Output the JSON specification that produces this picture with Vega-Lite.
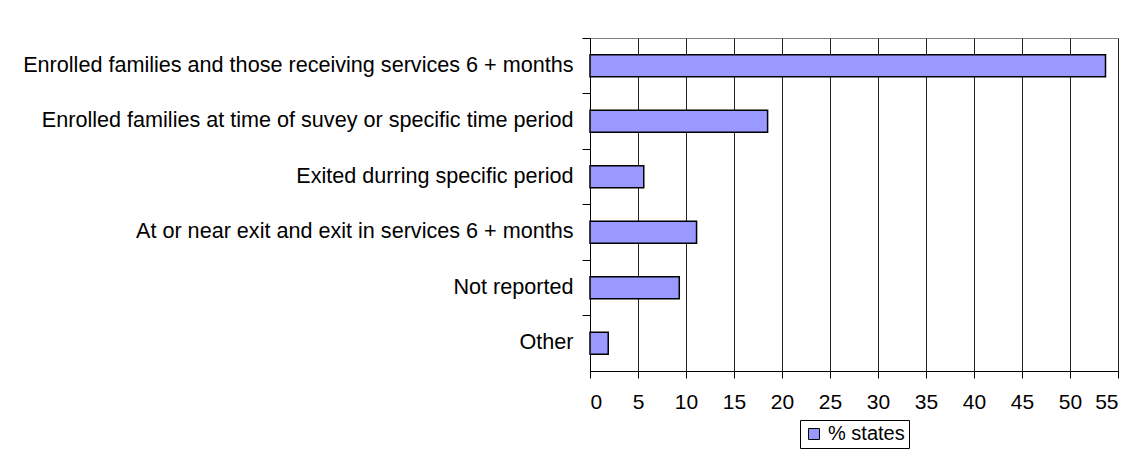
{
  "$schema": "https://vega.github.io/schema/vega-lite/v6.json",
  "autosize": {"type": "none"},
  "padding": {"left": 590, "top": 38, "right": 17, "bottom": 97},
  "width": 528,
  "height": 333,
  "background": "white",
  "config": {
    "font": "Liberation Sans",
    "view": {"stroke": "#808080", "strokeWidth": 1}
  },
  "data": {
    "values": [
      {"category": "Enrolled families and those receiving services 6 + months", "pct": 53.7, "series": "% states"},
      {"category": "Enrolled families at time of suvey or specific time period", "pct": 18.5, "series": "% states"},
      {"category": "Exited durring specific period", "pct": 5.6, "series": "% states"},
      {"category": "At or near exit and exit in services 6 + months", "pct": 11.1, "series": "% states"},
      {"category": "Not reported", "pct": 9.3, "series": "% states"},
      {"category": "Other", "pct": 1.9, "series": "% states"}
    ]
  },
  "mark": {"type": "bar", "height": {"band": 0.4}, "stroke": "black", "strokeWidth": 1.5},
  "encoding": {
    "y": {
      "field": "category", "type": "nominal", "sort": null,
      "scale": {"paddingInner": 0, "paddingOuter": 0},
      "axis": {
        "title": null, "bandPosition": 0, "labelOffset": 0,
        "tickSize": 8, "tickColor": "black", "domainColor": "black",
        "labelFontSize": 21.6, "labelColor": "black", "labelPadding": 9, "labelLimit": 700,
        "grid": false
      }
    },
    "x": {
      "field": "pct", "type": "quantitative",
      "scale": {"domain": [0, 55], "nice": false},
      "axis": {
        "title": null, "values": [0,5,10,15,20,25,30,35,40,45,50,55],
        "tickSize": 7, "tickColor": "black", "domainColor": "black",
        "labelFontSize": 21, "labelColor": "black", "labelPadding": 13,
        "grid": true, "gridColor": "#222", "gridOpacity": 1
      }
    },
    "color": {
      "field": "series", "type": "nominal",
      "scale": {"range": ["#9999ff"]},
      "legend": {
        "title": null, "orient": "none", "legendX": 210, "legendY": 382,
        "strokeColor": "black", "padding": 4, "fillColor": "white",
        "symbolType": "square", "symbolStrokeColor": "black", "symbolStrokeWidth": 1,
        "symbolSize": 120, "labelFontSize": 20, "labelOffset": 4, "labelColor": "black"
      }
    }
  }
}
